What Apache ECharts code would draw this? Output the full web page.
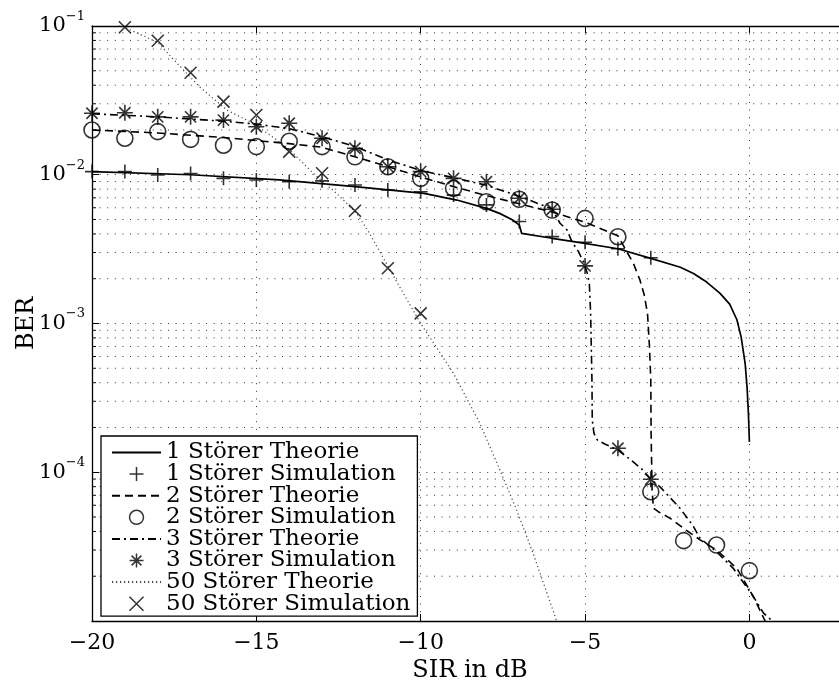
<!DOCTYPE html>
<html>
<head>
<meta charset="utf-8">
<script src="https://cdn.jsdelivr.net/npm/echarts@6/dist/echarts.min.js"></script>
<style>
  html, body { margin: 0; padding: 0; background: #fff; }
  #chart { width: 839px; height: 681px; }
</style>
</head>
<body>
<div id="chart"></div>
<script>
// SIR values (dB) at which the simulations were run
const sirSim1 = [-20, -19, -18, -17, -16, -15, -14, -13, -12, -11, -10, -9, -8, -7, -6, -5, -4, -3];
const sirSim2 = [-20, -19, -18, -17, -16, -15, -14, -13, -12, -11, -10, -9, -8, -7, -6, -5, -4, -3, -2, -1, 0];
const sirSim3 = [-20, -19, -18, -17, -16, -15, -14, -13, -12, -11, -10, -9, -8, -7, -6, -5, -4, -3];
const sirSim50 = [-19, -18, -17, -16, -15, -14, -13, -12, -11, -10];

// Simulated bit error rates
const berSim1 = [0.0105, 0.0105, 0.00996, 0.0102, 0.00946, 0.00923, 0.00897, 0.0091, 0.00853, 0.00789,
                 0.00769, 0.0073, 0.00627, 0.00485, 0.00384, 0.00352, 0.00318, 0.00277];
const berSim2 = [0.0200, 0.0176, 0.0195, 0.0173, 0.0158, 0.01545, 0.0168, 0.01545, 0.0132, 0.01133,
                 0.00946, 0.0081, 0.00659, 0.00684, 0.00579, 0.00509, 0.00383, 7.4e-5, 3.47e-5, 3.24e-5, 2.18e-5];
const berSim3 = [0.0259, 0.0261, 0.0245, 0.0245, 0.0233, 0.0210, 0.0222, 0.0176, 0.01507, 0.01133,
                 0.0105, 0.00946, 0.00897, 0.00695, 0.00586, 0.00244, 1.45e-4, 8.97e-5];
const berSim50 = [0.098, 0.0796, 0.0485, 0.031, 0.0252, 0.0143, 0.01023, 0.00573, 0.00235, 0.00117];

// Theoretical curves: SIR (dB) and BER
const sirTh1 = [-20, -17, -14.3, -12, -9.9, -8.9, -8, -7.6, -7.2, -7.0, -6.93, -6, -5.15, -4, -3, -2.1, -1.7,
                -1.3, -0.9, -0.6, -0.38, -0.25, -0.13, -0.07, -0.03, 0];
const berTh1 = [0.0105, 0.0100, 0.00923, 0.00832, 0.0075, 0.00676, 0.00594, 0.0055, 0.00496, 0.00459, 0.00404,
                0.00374, 0.0035, 0.00318, 0.00274, 0.00239, 0.00217, 0.0019, 0.0016, 0.00135, 0.00106, 8.1e-4,
                5.4e-4, 3.7e-4, 2.49e-4, 1.6e-4];

const sirTh2 = [-20, -18, -16, -14, -13, -12, -11, -10, -9, -8, -7, -6, -5, -4, -3.73, -3.53, -3.33, -3.2,
                -3.1, -3.04, -3.0, -2.99, -2.96, -2.92, -2.77, -2.41, -2.0, -1.5, -1.0, -0.38, 0.12, 0.48, 0.6];
const berTh2 = [0.0200, 0.0191, 0.0178, 0.0162, 0.0153, 0.0132, 0.01135, 0.00966, 0.00832, 0.00724, 0.00638,
                0.00562, 0.00479, 0.00389, 0.00304, 0.00254, 0.00196, 0.00156, 0.00117, 6.98e-4, 4.17e-4,
                1.82e-4, 7.59e-5, 5.73e-5, 5.43e-5, 4.9e-5, 4.2e-5, 3.51e-5, 3.0e-5, 2.26e-5, 1.46e-5, 1.0e-5, 8.7e-6];

const sirTh3 = [-20, -19, -18, -17, -16, -15, -14, -13, -12, -11, -10, -9, -8, -7, -6, -5.76, -5.55, -5.4,
                -5.2, -5.05, -4.93, -4.87, -4.83, -4.81, -4.79, -4.78, -4.73, -4.63, -4.4, -4.0, -3.65, -3.29,
                -3.0, -2.71, -2.11, -1.7, -1.5, -1.0, -0.49, 0.12, 0.43, 0.72];
const berTh3 = [0.0257, 0.0251, 0.0245, 0.0237, 0.0229, 0.0219, 0.0204, 0.018, 0.0155, 0.0126, 0.0107,
                0.00955, 0.0085, 0.00716, 0.00589, 0.00472, 0.00426, 0.00355, 0.00304, 0.0026, 0.00217,
                0.00186, 0.00117, 6.98e-4, 4.17e-4, 2.24e-4, 1.83e-4, 1.65e-4, 1.55e-4, 1.41e-4, 1.23e-4,
                1.06e-4, 8.97e-5, 7.94e-5, 5.73e-5, 4.31e-5, 3.6e-5, 2.92e-5, 2.26e-5, 1.46e-5, 1.13e-5, 9.9e-6];

const sirTh50 = [-19.3, -19, -18, -17.33, -16.72, -15.9, -15.1, -14.38, -13.98, -13.27, -12.56, -11.95,
                 -11.54, -10.73, -10, -9, -8.2, -7.59, -7.08, -6.58, -5.91, -5.8];
const berTh50 = [0.104, 0.0977, 0.0776, 0.0537, 0.0389, 0.0272, 0.0222, 0.01714, 0.01466, 0.01023, 0.0075,
                 0.00551, 0.00398, 0.00191, 0.001, 4.62e-4, 2.13e-4, 1.035e-4, 5.57e-5, 2.85e-5, 1.07e-5, 9.0e-6];

// Axis ranges and tick labels
const xMin = -20, xMax = 3, xStep = 5;
const yMin = 1e-5, yMax = 1e-1;
const xTickLabels = ['\u221220', '\u221215', '\u221210', '\u22125', '0'];
const decades = [-5, -4, -3, -2];
const seriesNames = ['1 Störer Theorie', '1 Störer Simulation', '2 Störer Theorie', '2 Störer Simulation',
                     '3 Störer Theorie', '3 Störer Simulation', '50 Störer Theorie', '50 Störer Simulation'];

const pair = (xs, ys) => xs.map((x, i) => [x, ys[i]]);

const FONT = 'DejaVu Serif';
const gridDots = { color: '#333', width: 1, type: [1, 6.6] };
const clear = 'rgba(0,0,0,0)';

// minor log grid values 2..9 x 10^k
const minorVals = [];
decades.forEach(e => { for (let k = 2; k <= 9; k++) minorVals.push(k * Math.pow(10, e)); });

// dotted minor grid lines across the plot and short inward ticks on the left axis,
// each run separated by a gap point so the polyline breaks
const minorGridData = [];
const minorTickData = [];
minorVals.forEach(v => {
  minorGridData.push([xMin, v], [xMax, v], [xMax, '-']);
  minorTickData.push([xMin, v], [xMin + 0.12, v], [xMin + 0.12, '-']);
});

const plusPath = 'path://M0 5L10 5M5 0L5 10';
const crossPath = 'path://M0 0L10 10M0 10L10 0';
const starPath = 'path://M0 5L10 5M5 0L5 10M1.5 1.5L8.5 8.5M1.5 8.5L8.5 1.5';

const hollow = { color: clear, borderColor: '#000', borderWidth: 1.6 };

function theory(name, data, type, width, color) {
  return {
    name, type: 'line', data, symbol: 'none', z: 3, connectNulls: false,
    lineStyle: { color: color || '#000', width, type },
    itemStyle: { color: clear, borderColor: clear, borderWidth: 0 }
  };
}
function sim(name, data, symbol, size) {
  return { name, type: 'scatter', data, symbol, symbolSize: size, itemStyle: hollow, z: 4 };
}
function helper(name, data, lineStyle, z) {
  return {
    name, type: 'line', data, symbol: 'none', silent: true, z, connectNulls: false,
    lineStyle, itemStyle: { color: clear }
  };
}

const legendData = seriesNames.map((n, i) => i % 2 === 0
  ? { name: n, itemStyle: { color: clear, borderColor: clear, borderWidth: 0 } }
  : { name: n, itemStyle: { color: clear, borderColor: '#000', borderWidth: 1.5 } });

const boxLine = { show: true, onZero: false, lineStyle: { color: '#000', width: 1.3 } };
const inTicks = { show: true, inside: true, length: 7, lineStyle: { color: '#000', width: 1 } };

const chart = echarts.init(document.getElementById('chart'), null, { renderer: 'canvas' });

chart.setOption({
  animation: false,
  backgroundColor: '#fff',
  grid: { left: 92, top: 26, width: 756, height: 595, outerBoundsMode: 'none', containLabel: false },
  xAxis: [{
    type: 'value', min: xMin, max: xMax, interval: xStep,
    name: 'SIR in dB', nameLocation: 'middle', nameGap: 37,
    nameTextStyle: { fontFamily: FONT, fontSize: 24, color: '#000' },
    axisLine: boxLine,
    axisTick: inTicks,
    axisLabel: {
      fontFamily: FONT, fontSize: 22, color: '#000', margin: 11,
      formatter: v => {
        const i = Math.round((v - xMin) / xStep);
        return (Math.abs(xMin + i * xStep - v) < 1e-9 && i < xTickLabels.length) ? xTickLabels[i] : '';
      }
    },
    splitLine: { show: true, lineStyle: gridDots }
  }, {
    type: 'value', min: xMin, max: xMax, interval: xStep, position: 'top',
    axisLine: boxLine,
    axisTick: inTicks,
    axisLabel: { show: false },
    splitLine: { show: false }
  }],
  yAxis: {
    type: 'log', logBase: 10, min: yMin, max: yMax,
    name: 'BER', nameLocation: 'middle', nameGap: 53, nameRotate: 90, nameMoveOverlap: false,
    nameTextStyle: { fontFamily: FONT, fontSize: 24, color: '#000' },
    axisLine: boxLine,
    axisTick: inTicks,
    axisLabel: {
      margin: 7, color: '#000',
      formatter: v => {
        const e = Math.round(Math.log10(v));
        if (e <= -5) return '';
        return '{b|10}{s|\u2212' + (-e) + '}';
      },
      rich: {
        b: { fontFamily: FONT, fontSize: 21, lineHeight: 32, color: '#000' },
        s: { fontFamily: FONT, fontSize: 13, lineHeight: 13, verticalAlign: 'top', color: '#000' }
      }
    },
    splitLine: { show: true, lineStyle: gridDots }
  },
  legend: {
    orient: 'vertical', left: 101, top: 436,
    data: legendData,
    padding: [5, 7, 1, 10],
    itemWidth: 49, itemHeight: 14, itemGap: -1.4,
    backgroundColor: '#fff', borderColor: '#000', borderWidth: 1.3, borderRadius: 0,
    selectedMode: false,
    textStyle: { fontFamily: FONT, fontSize: 23, lineHeight: 21, color: '#000' }
  },
  series: [
    helper('minorGrid', minorGridData, gridDots, 1),
    helper('minorTicks', minorTickData, { color: '#000', width: 1, type: 'solid' }, 5),
    theory(seriesNames[0], pair(sirTh1, berTh1), 'solid', 1.7),
    sim(seriesNames[1], pair(sirSim1, berSim1), plusPath, 14),
    theory(seriesNames[2], pair(sirTh2, berTh2), [8, 5], 1.6),
    sim(seriesNames[3], pair(sirSim2, berSim2), 'circle', 16),
    theory(seriesNames[4], pair(sirTh3, berTh3), [8, 4, 2, 4], 1.6),
    sim(seriesNames[5], pair(sirSim3, berSim3), starPath, 16),
    theory(seriesNames[6], pair(sirTh50, berTh50), [1.2, 2.8], 1.2, '#444'),
    sim(seriesNames[7], pair(sirSim50, berSim50), crossPath, 12)
  ]
});
</script>
</body>
</html>
